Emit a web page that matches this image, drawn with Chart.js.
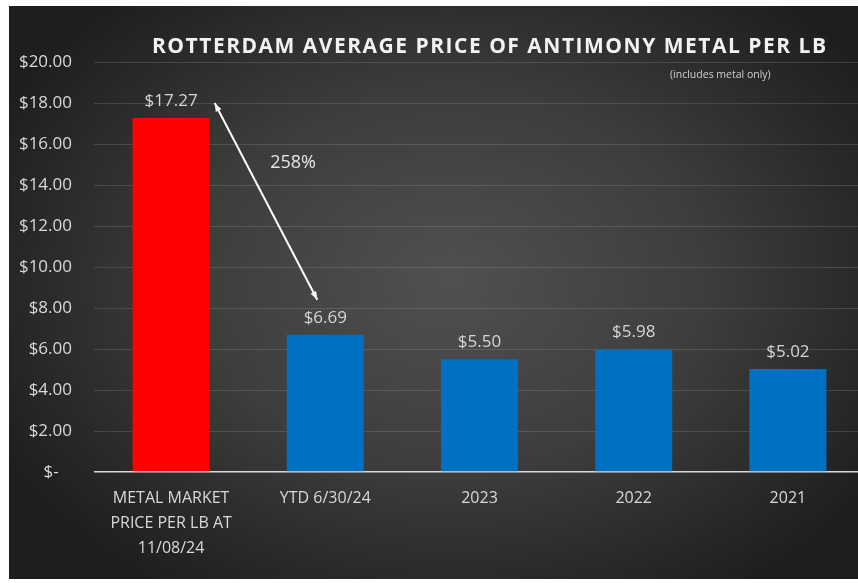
<!DOCTYPE html>
<html>
<head>
<meta charset="utf-8">
<script src="https://cdn.jsdelivr.net/npm/chart.js@4"></script>
<style>
  html, body { margin: 0; padding: 0; background: #ffffff; overflow: hidden; }
  #panel {
    position: absolute; left: 9px; top: 6px; width: 849px; height: 573px;
    background: radial-gradient(ellipse 60% 65% at 52% 48%, #505050 0%, #3d3d3d 50%, #272727 85%, #1e1e1e 100%);
  }
  #wrap { position: absolute; left: 0; top: 0; width: 866px; height: 583px; }
</style>
</head>
<body>
<div id="panel"></div>
<div id="wrap"><canvas id="chart_canva" width="866" height="583"></canvas></div>
<script>
// ----- datos -----
const categorias = [
    ['METAL MARKET', 'PRICE PER LB AT', '11/08/24'],
    'YTD 6/30/24',
    '2023',
    '2022',
    '2021'
];
const precios = [17.27, 6.69, 5.50, 5.98, 5.02];
const colores = ['#FF0000', '#0070C0', '#0070C0', '#0070C0', '#0070C0'];
const ticks_y = [0, 2, 4, 6, 8, 10, 12, 14, 16, 18, 20];
const titulo = 'ROTTERDAM AVERAGE PRICE OF ANTIMONY METAL PER LB';
const subtitulo = '(includes metal only)';
const cambio = '258%';

const FONT = '"Open Sans", "DejaVu Sans", sans-serif';

function dinero(v) {
    if (v === 0) return '$-   ';
    return '$' + v.toFixed(2);
}

// titulo, etiquetas de datos y flecha
const extras = {
    id: 'extras',
    afterDatasetsDraw(chart) {
        const ctx = chart.ctx;
        const x = chart.scales.x;
        const y = chart.scales.y;
        const meta = chart.getDatasetMeta(0);

        ctx.save();
        // etiquetas sobre las barras
        ctx.font = '17px ' + FONT;
        ctx.fillStyle = '#d6d6d6';
        ctx.textAlign = 'center';
        ctx.textBaseline = 'middle';
        meta.data.forEach((bar, i) => {
            ctx.fillText(dinero(precios[i]), bar.x, bar.y - 17);
        });

        // titulo
        ctx.font = 'bold 21px ' + FONT;
        ctx.fillStyle = '#f2f2f2';
        ctx.textAlign = 'left';
        const ancho = ctx.measureText(titulo).width;
        const extra = (674 - ancho) / (titulo.length - 1);
        ctx.letterSpacing = extra + 'px';
        ctx.fillText(titulo, 152, 47);
        ctx.letterSpacing = '0px';

        ctx.font = '10.5px ' + FONT;
        ctx.fillStyle = '#cfcfcf';
        ctx.fillText(subtitulo, 670, 75);

        // flecha doble
        const b0 = meta.data[0];
        const x1 = b0.x + b0.width / 2 + 5, y1 = y.getPixelForValue(18.0);
        const x2 = x.getPixelForValue(1) - 8, y2 = y.getPixelForValue(8.4);
        ctx.strokeStyle = '#ffffff';
        ctx.fillStyle = '#ffffff';
        ctx.lineWidth = 2;
        ctx.beginPath();
        ctx.moveTo(x1, y1);
        ctx.lineTo(x2, y2);
        ctx.stroke();
        const ang = Math.atan2(y2 - y1, x2 - x1);
        function punta(px, py, a) {
            ctx.beginPath();
            ctx.moveTo(px, py);
            ctx.lineTo(px - 9 * Math.cos(a - 0.35), py - 9 * Math.sin(a - 0.35));
            ctx.lineTo(px - 9 * Math.cos(a + 0.35), py - 9 * Math.sin(a + 0.35));
            ctx.closePath();
            ctx.fill();
        }
        punta(x2, y2, ang);
        punta(x1, y1, ang + Math.PI);

        ctx.font = '18px ' + FONT;
        ctx.fillStyle = '#e6e6e6';
        ctx.textAlign = 'center';
        ctx.fillText(cambio, x.getPixelForValue(0) + 122, y.getPixelForValue(15.1));
        ctx.restore();
    }
};

const data_precios = {
    labels: categorias,
    datasets: [{
        label: 'Precio',
        data: precios,
        backgroundColor: colores,
        borderWidth: 0,
        barPercentage: 0.5,
        categoryPercentage: 1.0
    }]
};

const config_precios = {
    type: 'bar',
    data: data_precios,
    options: {
        responsive: false,
        animation: false,
        layout: { padding: { top: 62, right: 1, bottom: 0, left: 0 } },
        plugins: {
            legend: { display: false },
            tooltip: { enabled: false }
        },
        scales: {
            x: {
                grid: { display: false, drawTicks: false },
                border: { display: false },
                ticks: {
                    color: '#d9d9d9',
                    font: { family: FONT, size: 16, lineHeight: 1.55 },
                    padding: 14,
                    maxRotation: 0,
                    autoSkip: false
                },
                afterFit(scale) { scale.height = 111; }
            },
            y: {
                min: 0,
                max: 20,
                afterBuildTicks(scale) {
                    scale.ticks = ticks_y.map(v => ({ value: v }));
                },
                grid: {
                    drawTicks: false,
                    color: (c) => c.tick.value === 0 ? '#d9d9d9' : 'rgba(255,255,255,0.13)',
                    lineWidth: (c) => c.tick.value === 0 ? 1.5 : 1
                },
                border: { display: false },
                ticks: {
                    color: '#d9d9d9',
                    font: { family: FONT, size: 17 },
                    padding: 22,
                    callback: (v) => dinero(v)
                },
                afterFit(scale) { scale.width = 94; }
            }
        }
    },
    plugins: [extras]
};

var precios_chart = new Chart(
    document.getElementById('chart_canva'),
    config_precios
);
</script>
</body>
</html>
